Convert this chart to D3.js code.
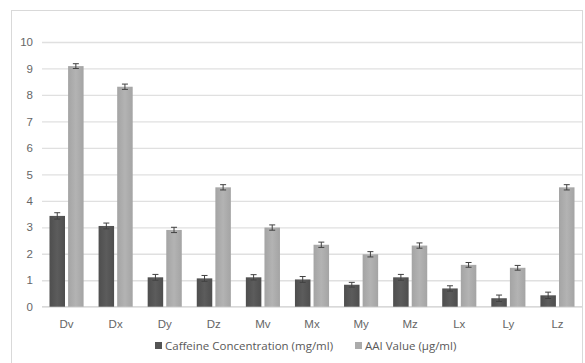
<!DOCTYPE html>
<html><head><meta charset="utf-8">
<script src="https://cdn.jsdelivr.net/npm/d3@7"></script>
<style>body{margin:0;background:#fff}svg{display:block;font-family:"Open Sans",sans-serif}</style>
</head><body><svg id="c" width="585" height="363"></svg>
<script>
const categories = ["Dv","Dx","Dy","Dz","Mv","Mx","My","Mz","Lx","Ly","Lz"];
const caffeine = [3.43,3.05,1.11,1.07,1.11,1.03,0.83,1.11,0.69,0.32,0.43];
const caffeineErr = [0.12,0.11,0.11,0.11,0.1,0.11,0.09,0.11,0.1,0.12,0.12];
const aai = [9.09,8.31,2.9,4.51,2.99,2.34,1.98,2.31,1.58,1.47,4.51];
const aaiErr = [0.09,0.1,0.1,0.1,0.1,0.1,0.1,0.1,0.09,0.09,0.1];
const yTicks = [0,1,2,3,4,5,6,7,8,9,10];
const seriesNames = ["Caffeine Concentration (mg/ml)","AAI Value (\u00b5g/ml)"];

const svg = d3.select("#c");
const defs = svg.append("defs");
function grad(id, c1, c2){
  const g = defs.append("linearGradient").attr("id",id).attr("x1","0").attr("x2","1").attr("y1","0").attr("y2","0");
  g.append("stop").attr("offset","0%").attr("stop-color",c2);
  g.append("stop").attr("offset","50%").attr("stop-color",c1);
  g.append("stop").attr("offset","100%").attr("stop-color",c2);
}
grad("gd","#5c5c5c","#4e4e4e");
grad("gl","#b3b3b3","#a4a4a4");

svg.append("rect").attr("x",11.5).attr("y",10.5).attr("width",571).attr("height",360)
  .attr("fill","#fff").attr("stroke","#d9d9d9");

const x = d3.scaleBand().domain(categories).range([42,582]);
const y = d3.scaleLinear().domain([0,10]).range([306.7,42]);

const yAxis = svg.append("g").attr("transform","translate(42,0)")
  .call(d3.axisLeft(y).tickValues(yTicks).tickSize(-540).tickFormat(d3.format("d")));
yAxis.select(".domain").remove();
yAxis.selectAll(".tick line").attr("stroke","#e0e0e0").attr("stroke-width",1.3);
yAxis.selectAll(".tick text").attr("x",-9).attr("fill","#666").attr("font-size",11.5);

svg.append("line").attr("x1",42).attr("x2",582).attr("y1",y(0)).attr("y2",y(0)).attr("stroke","#d9d9d9").attr("stroke-width",1.3);

const xAxis = svg.append("g").attr("transform",`translate(0,${y(0)})`)
  .call(d3.axisBottom(x).tickSize(0));
xAxis.select(".domain").remove();
xAxis.selectAll(".tick text").attr("dy",18).attr("fill","#666").attr("font-size",11.5);

const bw = 15.5, off = 9.3;
const series = [
  {vals:caffeine, err:caffeineErr, fill:"url(#gd)", dx:-off},
  {vals:aai, err:aaiErr, fill:"url(#gl)", dx:off}
];
series.forEach(s=>{
  const g = svg.append("g");
  g.selectAll("rect").data(categories).join("rect")
    .attr("x",(c)=>x(c)+x.bandwidth()/2+s.dx-bw/2)
    .attr("y",(c,i)=>y(s.vals[i]))
    .attr("width",bw)
    .attr("height",(c,i)=>y(0)-y(s.vals[i]))
    .attr("fill",s.fill);
  const e = svg.append("g").attr("stroke","#404040").attr("stroke-width",1);
  categories.forEach((c,i)=>{
    const cx = x(c)+x.bandwidth()/2+s.dx;
    const t = y(s.vals[i]+s.err[i]), b = y(s.vals[i]-s.err[i]);
    e.append("line").attr("x1",cx).attr("x2",cx).attr("y1",t).attr("y2",b);
    e.append("line").attr("x1",cx-3).attr("x2",cx+3).attr("y1",t).attr("y2",t);
    e.append("line").attr("x1",cx-3).attr("x2",cx+3).attr("y1",b).attr("y2",b);
  });
});

const leg = svg.append("g");
const items = [{name:seriesNames[0],c:"#545454",x:155},{name:seriesNames[1],c:"#ababab",x:355}];
items.forEach(it=>{
  leg.append("rect").attr("x",it.x).attr("y",342).attr("width",7).attr("height",7).attr("fill",it.c);
  leg.append("text").attr("x",it.x+10).attr("y",349.5).attr("fill","#595959").attr("font-size",11.5).text(it.name);
});
</script></body></html>
